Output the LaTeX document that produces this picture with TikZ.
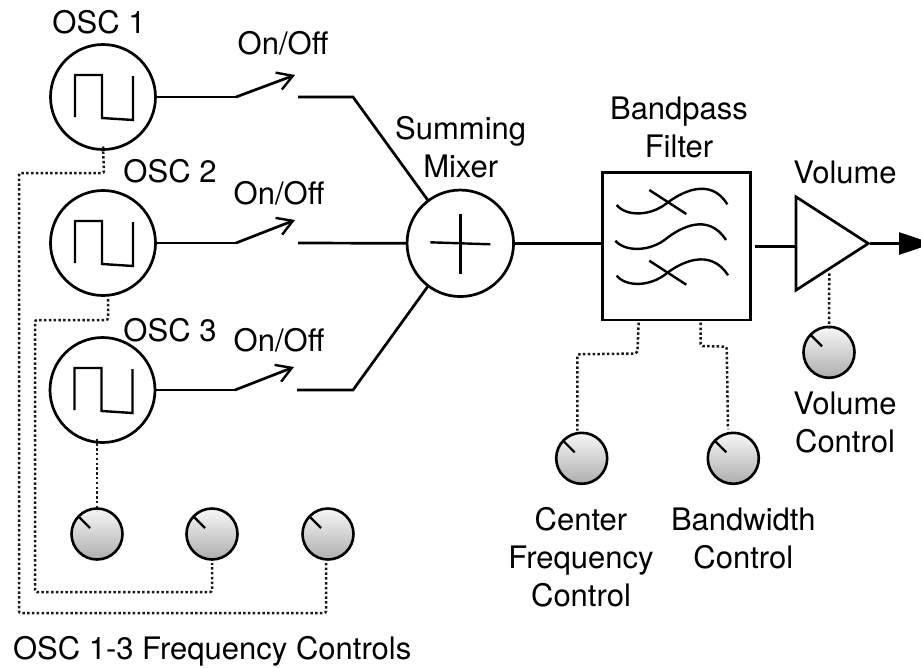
\documentclass[tikz,border=0pt]{standalone}
\usepackage{fontspec}
\setmainfont{TeX Gyre Heros}
\usetikzlibrary{arrows.meta,shapes.geometric}
\tikzset{
  wire/.style={line width=2.7pt,line join=miter},
  thin wire/.style={line width=2.4pt},
  ctrl/.style={line width=2.5pt,dash pattern=on 2.5pt off 2.3pt,rounded corners=2pt,color=black!90},
  block/.style={draw,circle,line width=2.7pt,inner sep=0pt,outer sep=0pt,minimum size=105pt},
  knob/.style={draw,circle,line width=2.6pt,inner sep=0pt,outer sep=0pt,minimum size=51pt,top color=black!3,bottom color=black!32},
  lbl/.style={inner sep=0pt,outer sep=0pt,align=center,font=\fontsize{31}{38}\selectfont},
  switcharm/.style={wire,-{Straight Barb[length=15pt,width=18pt,line width=2.4pt]}},
}
\newcommand{\wavehere}[1]{\draw[thin wire] ([shift={(-28,20)}]#1.center) -- ([shift={(-28,-22)}]#1.center) -- ([shift={(-1,-22)}]#1.center) -- ([shift={(-1,21)}]#1.center) -- ([shift={(30,23)}]#1.center) -- ([shift={(30,-21)}]#1.center);}
\newcommand{\pointer}[1]{\draw[line width=2.2pt] ([shift={(-19,-18)}]#1.center) -- ([shift={(-7,-6)}]#1.center);}
\begin{document}
\begin{tikzpicture}[x=1pt,y=-1pt]
\path[use as bounding box] (0,0) rectangle (921,667);
\clip (0,0) rectangle (921,667);
% oscillators
\node[block] (osc1) at (103,97) {};
\node[block] (osc2) at (103,243) {};
\node[block] (osc3) at (102.5,390) {};
\wavehere{osc1}
\wavehere{osc2}
\wavehere{osc3}
% mixer
\node[block,minimum size=106.5pt] (mix) at (460.3,243.3) {};
\draw[thin wire] ([shift={(-30,-1)}]mix.center) -- ([shift={(30,1)}]mix.center);
\draw[thin wire] ([shift={(0,-29.5)}]mix.center) -- ([shift={(0,30.5)}]mix.center);
% filter
\node[draw,line width=2.7pt,inner sep=0pt,outer sep=0pt,minimum width=148pt,minimum height=147.3pt] (bpf) at (676.7,246.3) {};
\draw[thin wire] (616.7,205) .. controls (626,216.5) and (650,216.5) .. (666.7,203.3) .. controls (680,193) and (710,176) .. (727.3,204.3);
\draw[thin wire] (649.3,190) -- (686.3,214);
\draw[thin wire] (615.3,240.7) .. controls (625,252) and (650,252) .. (666.7,238.3) .. controls (680,228) and (708,212) .. (726,240);
\draw[thin wire] (616.7,275.7) .. controls (626,287) and (650,287) .. (666.7,273.3) .. controls (680,263) and (710,247) .. (728,275.3);
\draw[thin wire] (649.3,260.7) -- (686.3,284.7);
% amplifier
\node[draw,line width=2.7pt,inner sep=0pt,outer sep=0pt,isosceles triangle,isosceles triangle stretches,shape border rotate=0,minimum width=93.3pt,minimum height=72.3pt,anchor=lower side] (vol) at (796,243.5) {};
% knobs
\node[knob] (k1) at (97,534) {};
\node[knob] (k2) at (212,534) {};
\node[knob] (k3) at (328,534) {};
\node[knob] (k4) at (581.7,458.3) {};
\node[knob] (k5) at (733.3,458.3) {};
\node[knob] (k6) at (829,352.3) {};
\pointer{k1}\pointer{k2}\pointer{k3}\pointer{k4}\pointer{k5}\pointer{k6}
% switches
\coordinate (s1a) at (236,97); \coordinate (s1b) at (295,75); \coordinate (s1c) at (298,97); \coordinate (s1d) at (353,97);
\coordinate (s2a) at (236,243); \coordinate (s2b) at (295,220); \coordinate (s2c) at (298,243);
\coordinate (s3a) at (235,390); \coordinate (s3b) at (294,367); \coordinate (s3c) at (297,390); \coordinate (s3d) at (353,390);
\draw[wire] (osc1.east) -- (s1a);
\draw[switcharm] (s1a) -- (s1b);
\draw[wire] (s1c) -- (s1d) -- (mix.127);
\draw[wire] (osc2.east) -- (s2a);
\draw[switcharm] (s2a) -- (s2b);
\draw[wire] (s2c) -- (mix.west);
\draw[wire] (osc3.east) -- (s3a);
\draw[switcharm] (s3a) -- (s3b);
\draw[wire] (s3c) -- (s3d) -- (mix.233);
\draw[wire] (mix.east) -- (mix.east -| bpf.west);
\coordinate (fout) at (755,246.5);
\coordinate (vin) at (796,246.5);
\draw[wire] (fout) -- (vin);
\coordinate (out) at (933,243.5);
\coordinate (voutstart) at (870,243.5);
\draw[wire,-{Triangle[length=34pt,width=22pt]}] (voutstart) -- (out);
% control lines
\coordinate (a1) at (104,173); \coordinate (a2) at (19,173); \coordinate (a3) at (19,613); \coordinate (a4) at (326,613); \coordinate (a5) at (326,563);
\draw[ctrl] ([yshift=3pt]osc1.south) -- (a1) -- (a2) -- (a3) -- (a4) -- (a5);
\coordinate (b0) at (108,299); \coordinate (b1) at (108,320); \coordinate (b2) at (35,320); \coordinate (b3) at (35,592); \coordinate (b4) at (212,592); \coordinate (b5) at (212,563);
\draw[ctrl] (b0) -- (b1) -- (b2) -- (b3) -- (b4) -- (b5);
\draw[ctrl] ([yshift=4pt]osc3.south -| k1) -- ([yshift=-2pt]k1.north);
\coordinate (c0) at (638.7,322.7); \coordinate (c1) at (637.3,353.5); \coordinate (c2) at (577.3,354.3); \coordinate (c3) at (577.3,430.7);
\draw[ctrl] (c0) -- (c1) -- (c2) -- (c3);
\coordinate (d0) at (700.7,322.7); \coordinate (d1) at (700.7,346); \coordinate (d2) at (726.7,346.7); \coordinate (d3) at (728,429.3);
\draw[ctrl] (d0) -- (d1) -- (d2) -- (d3);
\coordinate (e0) at (829.3,273.3);
\draw[ctrl] (e0) -- ([yshift=-2pt]k6.north);
% labels
\node[lbl] (tosc1) at (99,22) {OSC 1};
\node[lbl] (ton1) at (283,43) {On/Off};
\node[lbl] (tosc2) at (170,171) {OSC 2};
\node[lbl] (ton2) at (279,193) {On/Off};
\node[lbl] (tosc3) at (170,330) {OSC 3};
\node[lbl] (ton3) at (279,340) {On/Off};
\node[lbl] (tmix) at (460.7,147.5) {Summing\\Mixer};
\node[lbl] (tbpf) at (679,127.5) {Bandpass\\Filter};
\node[lbl] (tvol) at (845,172) {Volume};
\node[lbl] (tvolc) at (845,422.5) {Volume\\Control};
\node[lbl] (tcf) at (581,557) {Center\\Frequency\\Control};
\node[lbl] (tbw) at (743.3,538) {Bandwidth\\Control};
\node[lbl,anchor=west] (tfc) at (13,651.7) {OSC 1-3 Frequency Controls};
\end{tikzpicture}
\end{document}
